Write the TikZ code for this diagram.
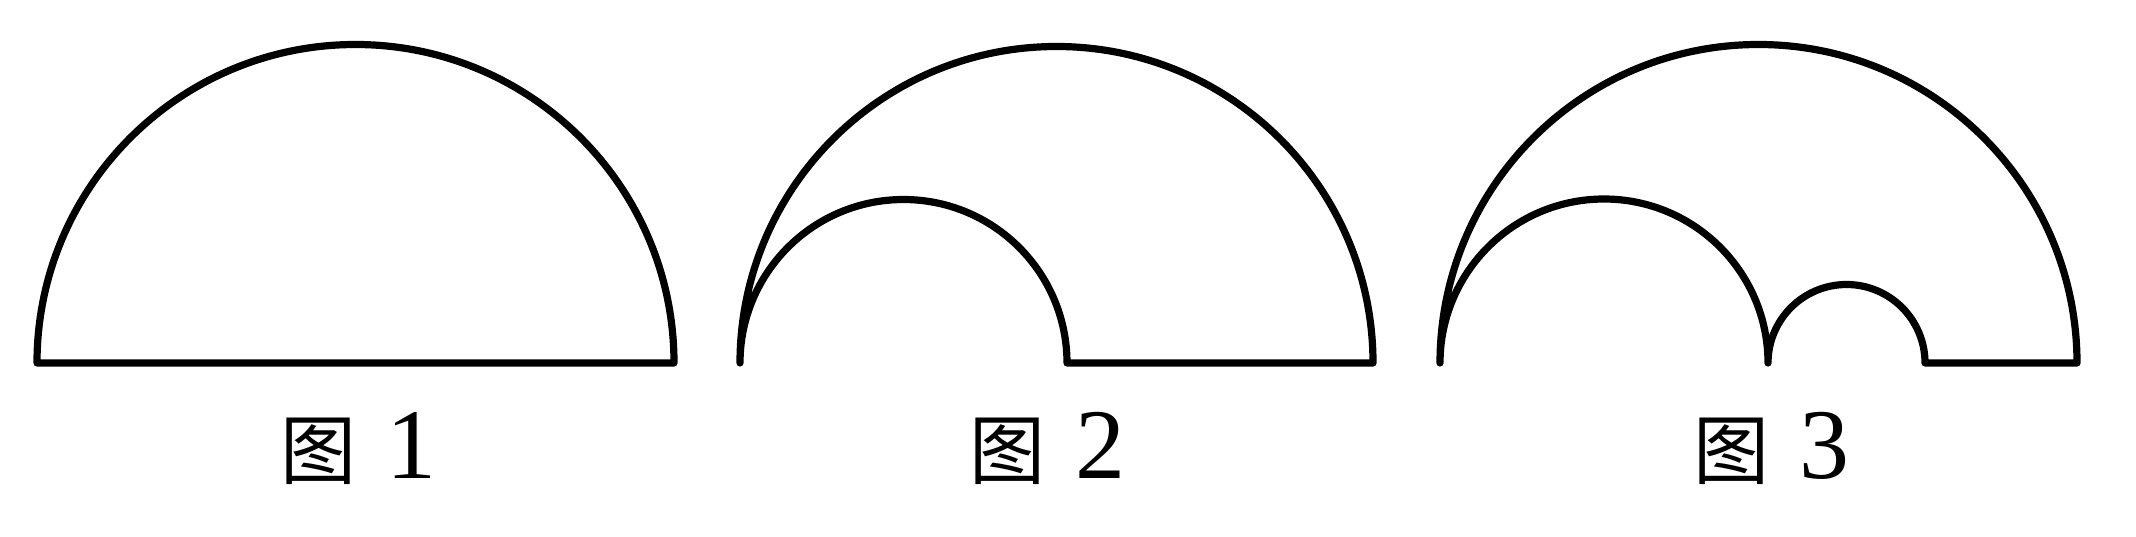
\documentclass[tikz,border=0pt]{standalone}
\usepackage{fontspec}
\setmainfont{Liberation Serif}
\newfontfamily\cjk{Noto Sans CJK SC}
\newfontfamily\digitfont{Liberation Serif}
\begin{document}
\begin{tikzpicture}[x=0.5pt,y=0.5pt,
  shape line/.style={draw=black,line width=3.6pt,line join=round},
  figlabel/.style={anchor=base,inner sep=0pt}]
\useasboundingbox (0,0) rectangle (2136,536);
% Figure 1
\draw[shape line] (37,173) arc[start angle=180,end angle=0,radius=318.5] -- cycle;
% Figure 2
\draw[shape line] (740,173) arc[start angle=180,end angle=0,radius=316.5]
  -- (1067,173) arc[start angle=0,end angle=180,radius=163.5] -- cycle;
% Figure 3
\draw[shape line] (1440,173) arc[start angle=180,end angle=0,radius=318.5]
  -- (1925,173) arc[start angle=0,end angle=180,radius=78.5]
  arc[start angle=0,end angle=180,radius=164] -- cycle;
% labels
\node[figlabel] (l1) at (358,58) {{\fontsize{38}{40}\cjk 图}\hspace{15pt}{\fontsize{50}{52}\digitfont 1}};
\node[figlabel] (l2) at (1047,58) {{\fontsize{38}{40}\cjk 图}\hspace{15pt}{\fontsize{50}{52}\digitfont 2}};
\node[figlabel] (l3) at (1771,58) {{\fontsize{38}{40}\cjk 图}\hspace{15pt}{\fontsize{50}{52}\digitfont 3}};
\end{tikzpicture}
\end{document}
